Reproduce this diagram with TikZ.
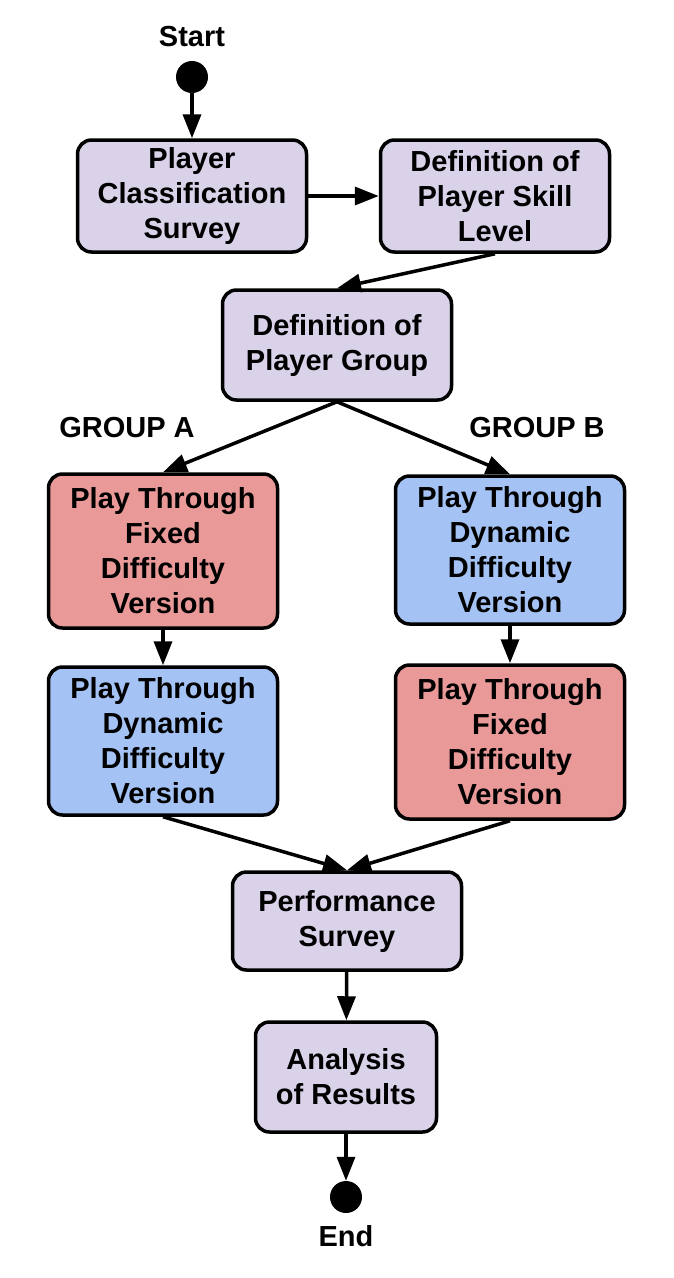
\documentclass[tikz,border=0pt]{standalone}
\usepackage{fontspec}
\setmainfont{Liberation Sans}
\usetikzlibrary{arrows.meta}
\definecolor{lavender}{HTML}{D9D2E9}
\definecolor{fixedred}{HTML}{EA9999}
\definecolor{dynblue}{HTML}{A4C2F4}

\begin{document}
\begin{tikzpicture}[x=1pt,y=-1pt,
      stage/.style ={rectangle, draw, line width=3.5pt, rounded corners=14pt, align=center, inner sep=0pt,
                     minimum width=229pt, font=\bfseries\fontsize{29}{35}\selectfont},
      plain/.style ={stage, fill=lavender},
      fixed/.style ={stage, fill=fixedred, minimum height=154pt},
      dynamic/.style ={stage, fill=dynblue, minimum height=148pt},
      terminal/.style ={circle, fill, inner sep=0pt, minimum size=32pt},
      tag/.style ={font=\bfseries\fontsize{29}{35}\selectfont},
      flow/.style ={line width=3.5pt, -{Triangle[length=24pt,width=18pt]}}]
   \useasboundingbox (0,0) rectangle (674,1278);
   \node[tag] (st) at (192,37) {Start};
   \node[terminal] (S) at (192,77) {};
   \node[plain, minimum height=112pt] (P) at (192,196) {Player\\Classification\\Survey};
   \node[plain, minimum height=112pt] (K) at (495,196) {Definition of\\Player Skill\\Level};
   \node[plain, minimum height=110pt] (G) at (337,345) {Definition of\\Player Group};
   \node[tag] (ga) at (127,428) {GROUP A};
   \node[tag] (gb) at (537,428) {GROUP B};
   \node[fixed] (A1) at (163,551) {Play Through\\Fixed\\Difficulty\\Version};
   \node[dynamic] (B1) at (510,550) {Play Through\\Dynamic\\Difficulty\\Version};
   \node[dynamic] (A2) at (163,741) {Play Through\\Dynamic\\Difficulty\\Version};
   \node[fixed] (B2) at (510,742) {Play Through\\Fixed\\Difficulty\\Version};
   \node[plain, minimum height=98pt] (R) at (347,921) {Performance\\Survey};
   \node[plain, minimum height=110pt, minimum width=181pt] (N) at (346,1077) {Analysis\\of Results};
   \node[terminal] (E) at (346,1197) {};
   \node[tag] (en) at (346,1236) {End};
   \draw[flow] (S) to (P);
   \draw[flow] (P) to (K);
   \draw[flow] (K.south) to (G.north);
   \draw[flow] (G.south) to (A1.north);
   \draw[flow] (G.south) to (B1.north);
   \draw[flow] (A1) to (A2);
   \draw[flow] (B1) to (B2);
   \draw[flow] (A2.south) to (R.north);
   \draw[flow] (B2.south) to (R.north);
   \draw[flow] (R) to (N);
   \draw[flow] (N) to (E);
 \end{tikzpicture}
\end{document}
